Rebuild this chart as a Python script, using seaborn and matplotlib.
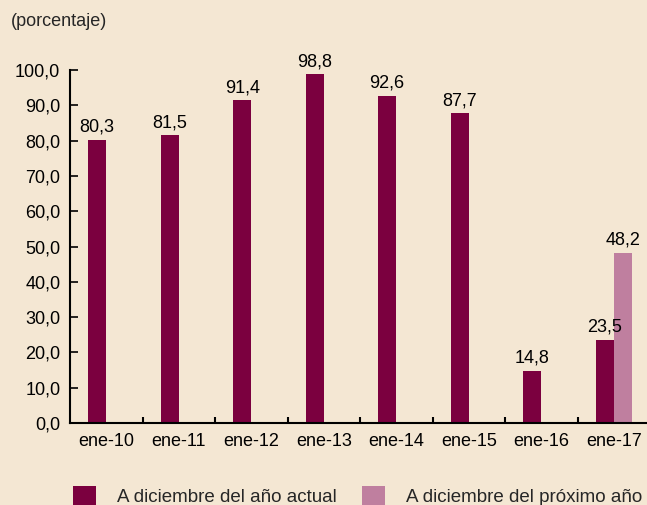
import numpy as np
import pandas as pd
import matplotlib
matplotlib.use("Agg")
import matplotlib.pyplot as plt
from matplotlib.patches import Patch
from matplotlib.ticker import FuncFormatter, FixedLocator
import seaborn as sns

categories = ["ene-10", "ene-11", "ene-12", "ene-13", "ene-14", "ene-15", "ene-16", "ene-17"]
actual = [80.3, 81.5, 91.4, 98.8, 92.6, 87.7, 14.8, 23.5]
proximo = [np.nan, np.nan, np.nan, np.nan, np.nan, np.nan, np.nan, 48.2]
series_names = ["A diciembre del año actual", "A diciembre del próximo año"]

BG = "#F4E7D3"
DARK = "#7B003F"
LIGHT = "#BF7F9F"

sns.set_theme(style="white")
plt.rcParams["font.family"] = ["Liberation Sans", "DejaVu Sans"]

df = pd.DataFrame({
    "cat": categories * 2,
    "val": actual + proximo,
    "serie": [series_names[0]] * len(categories) + [series_names[1]] * len(categories),
})

fig = plt.figure(figsize=(6.47, 5.05), dpi=100, facecolor=BG)
ax = fig.add_axes([70 / 647, 1 - 423 / 505, 580 / 647, (423 - 70) / 505])
ax.set_facecolor(BG)

sns.barplot(data=df, x="cat", y="val", hue="serie", order=categories,
            hue_order=series_names, palette=[DARK, LIGHT], width=0.5,
            dodge=True, saturation=1, errorbar=None, legend=False, ax=ax,
            linewidth=0)

fmt = lambda v: f"{v:.1f}".replace(".", ",")
for cont in ax.containers:
    labels = []
    for bar in cont:
        h = bar.get_height()
        labels.append("" if (h is None or np.isnan(h)) else fmt(h))
    ax.bar_label(cont, labels=labels, padding=3, fontsize=13, color="black")

ax.set_ylim(0, 100)
ax.set_xlim(-0.5, 7.5)
ax.set_yticks(np.arange(0, 101, 10))
ax.yaxis.set_major_formatter(FuncFormatter(lambda v, p: fmt(v)))
ax.set_xlabel("")
ax.set_ylabel("")

ax.xaxis.set_minor_locator(FixedLocator(np.arange(0.5, 7.0, 1.0)))
ax.tick_params(axis="x", which="major", length=0, pad=7, labelsize=13, colors="black")
ax.tick_params(axis="x", which="minor", direction="in", length=4, width=1.5, color="black", bottom=True)
ax.tick_params(axis="y", which="major", direction="in", length=6, width=1.2, pad=7,
               labelsize=13, colors="black", left=True)

for s in ["top", "right"]:
    ax.spines[s].set_visible(False)
for s in ["left", "bottom"]:
    ax.spines[s].set_color("black")
    ax.spines[s].set_linewidth(1.5)

fig.text(11 / 647, 1 - 21 / 505, "(porcentaje)", fontsize=13, va="center", ha="left")

handles = [Patch(facecolor=DARK, edgecolor="none"), Patch(facecolor=LIGHT, edgecolor="none")]
fig.legend(handles, series_names, ncol=2, loc="center left",
           bbox_to_anchor=(73 / 647, 1 - 496 / 505), frameon=False, fontsize=13.5,
           handlelength=1.23, handleheight=1.23, handletextpad=1.12, columnspacing=1.33,
           borderaxespad=0, borderpad=0)

fig.savefig("out.png", dpi=100, facecolor=BG)
